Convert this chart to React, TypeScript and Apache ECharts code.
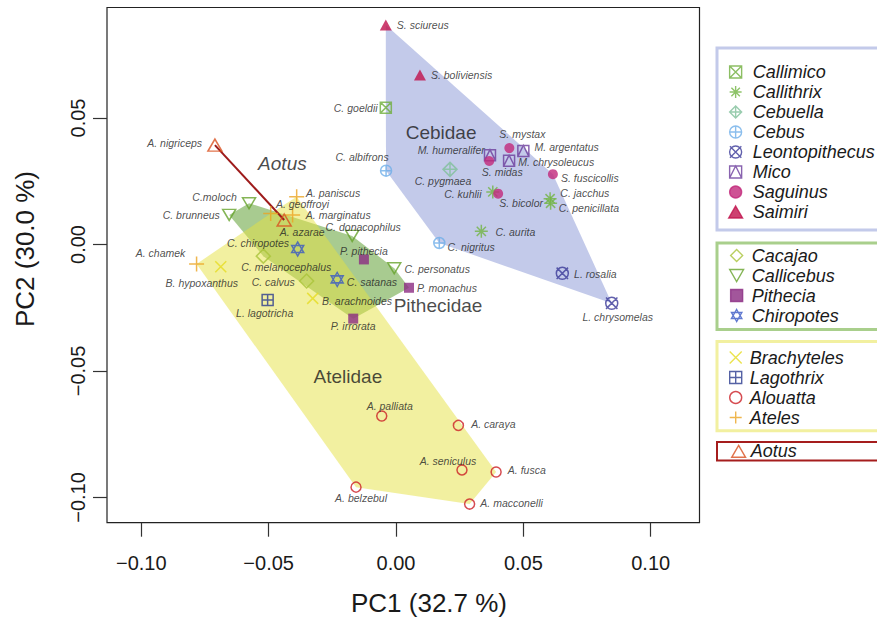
import React, { useEffect, useRef } from 'react';
import * as echarts from 'echarts';

const FONT = '"Liberation Sans", Arial, Helvetica, sans-serif';

// ---- axes ----
const xTicks = [-0.1, -0.05, 0, 0.05, 0.1];
const yTicks = [-0.1, -0.05, 0, 0.05];
const xRange = [-0.11347, 0.11916];
const yRange = [-0.10996, 0.09368];
const xTitle = 'PC1 (32.7 %)';
const yTitle = 'PC2 (30.0 %)';

// ---- data: [species, PC1, PC2] ----
const Callimico = [['C. goeldii', -0.0040, 0.0541]];
const Callithrix = [['C. kuhlii', 0.0380, 0.0208], ['C. jacchus', 0.0605, 0.0181], ['C. penicillata', 0.0607, 0.0163], ['C. aurita', 0.0335, 0.0052]];
const Cebuella = [['C. pygmaea', 0.0212, 0.0297]];
const Cebus = [['C. albifrons', -0.0039, 0.0292], ['C. nigritus', 0.0170, 0.0006]];
const Leontopithecus = [['L. rosalia', 0.0653, -0.0114], ['L. chrysomelas', 0.0847, -0.0232]];
const Mico = [['M. humeralifer', 0.0369, 0.0353], ['M. argentatus', 0.0500, 0.0370], ['M. chrysoleucus', 0.0444, 0.0331]];
const Saguinus = [['S. mystax', 0.0445, 0.0381], ['S. midas', 0.0366, 0.0330], ['S. fuscicollis', 0.0616, 0.0278], ['S. bicolor', 0.0401, 0.0201]];
const Saimiri = [['S. sciureus', -0.0040, 0.0868], ['S. boliviensis', 0.0094, 0.0670]];
const Cacajao = [['C. melanocephalus', -0.0521, -0.0046], ['C. calvus', -0.0351, -0.0144]];
const Callicebus = [['C.moloch', -0.0577, 0.0163], ['C. brunneus', -0.0655, 0.0117], ['C. donacophilus', -0.0172, 0.0034], ['C. personatus', -0.0007, -0.0094]];
const Pithecia = [['P. pithecia', -0.0126, -0.0059], ['P. monachus', 0.0051, -0.0171], ['P. irrorata', -0.0168, -0.0293]];
const Chiropotes = [['C. chiropotes', -0.0386, -0.0018], ['C. satanas', -0.0231, -0.0138]];
const Brachyteles = [['B. hypoxanthus', -0.0688, -0.0088], ['B. arachnoides', -0.0327, -0.0213]];
const Lagothrix = [['L. lagotricha', -0.0504, -0.0219]];
const Alouatta = [['A. palliata', -0.0056, -0.0678], ['A. caraya', 0.0245, -0.0715], ['A. seniculus', 0.0259, -0.0891], ['A. fusca', 0.0393, -0.0899], ['A. belzebul', -0.0157, -0.0959], ['A. macconelli', 0.0289, -0.1026]];
const Ateles = [['A. paniscus', -0.0390, 0.0189], ['A. geoffroyi', -0.0492, 0.0123], ['A. marginatus', -0.0406, 0.0117], ['A. chamek', -0.0783, -0.0077]];
const Aotus = [['A. nigriceps', -0.0711, 0.0393], ['A. azarae', -0.0439, 0.0097]];

const genusData: Record<string, any[]> = {
  Callimico, Callithrix, Cebuella, Cebus, Leontopithecus, Mico, Saguinus, Saimiri,
  Cacajao, Callicebus, Pithecia, Chiropotes, Brachyteles, Lagothrix, Alouatta, Ateles, Aotus,
};

// ---- families ----
const cebidae = ['Callimico', 'Callithrix', 'Cebuella', 'Cebus', 'Leontopithecus', 'Mico', 'Saguinus', 'Saimiri'];
const pithecidae = ['Cacajao', 'Callicebus', 'Pithecia', 'Chiropotes'];
const atelidae = ['Brachyteles', 'Lagothrix', 'Alouatta', 'Ateles'];
const aotidae = ['Aotus'];
const familyLabels = [['Cebidae', 0.0177, 0.0441], ['Pithecidae', 0.0165, -0.0243], ['Atelidae', -0.0189, -0.0520], ['Aotus', -0.0446, 0.0321]];

// ---- styles ----
const PATH = {
  sqX: 'path://M0 0L20 0L20 20L0 20ZM0 0L20 20M20 0L0 20',
  ast: 'path://M10 0L10 20M0 10L20 10M2.93 2.93L17.07 17.07M17.07 2.93L2.93 17.07',
  diaPlus: 'path://M10 0L20 10L10 20L0 10ZM10 0L10 20M0 10L20 10',
  circPlus: 'path://M0 10A10 10 0 1 1 20 10A10 10 0 1 1 0 10ZM10 0L10 20M0 10L20 10',
  circX: 'path://M0 10A10 10 0 1 1 20 10A10 10 0 1 1 0 10ZM0.5 0.5L19.5 19.5M19.5 0.5L0.5 19.5',
  sqTri: 'path://M0 0L20 0L20 20L0 20ZM0 20L10 0L20 20',
  tri: 'path://M10 0L20 17.3L0 17.3Z',
  triDown: 'path://M0 0L20 0L10 17.3Z',
  dia: 'path://M10 0L20 10L10 20L0 10Z',
  sq: 'path://M0 0L20 0L20 20L0 20Z',
  star: 'path://M10 0L18.66 15L1.34 15ZM10 20L1.34 5L18.66 5Z',
  x: 'path://M0 0L20 20M20 0L0 20',
  sqPlus: 'path://M0 0L20 0L20 20L0 20ZM10 0L10 20M0 10L20 10',
  plus: 'path://M10 0L10 20M0 10L20 10',
};

const genusStyle: Record<string, { symbol: string; size: any; color: string; filled?: boolean }> = {
  Callimico: { symbol: PATH.sqX, size: 11, color: '#6fae3c' },
  Callithrix: { symbol: PATH.ast, size: 13, color: '#72b444' },
  Cebuella: { symbol: PATH.diaPlus, size: 14, color: '#80bf9a' },
  Cebus: { symbol: PATH.circPlus, size: 11, color: '#6eaee8' },
  Leontopithecus: { symbol: PATH.circX, size: 12, color: '#3b3a99' },
  Mico: { symbol: PATH.sqTri, size: 11, color: '#6b3c9b' },
  Saguinus: { symbol: 'circle', size: 10, color: '#c2287a', filled: true },
  Saimiri: { symbol: PATH.tri, size: [12, 11], color: '#c0124c', filled: true },
  Cacajao: { symbol: PATH.dia, size: 14, color: '#a9c33a' },
  Callicebus: { symbol: PATH.triDown, size: [13, 11], color: '#66a22c' },
  Pithecia: { symbol: PATH.sq, size: 10, color: '#8b2c82', filled: true },
  Chiropotes: { symbol: PATH.star, size: [12, 14], color: '#3857c4' },
  Brachyteles: { symbol: PATH.x, size: 11, color: '#e6dc22' },
  Lagothrix: { symbol: PATH.sqPlus, size: 11, color: '#2b3b8e' },
  Alouatta: { symbol: 'circle', size: 10, color: '#cc1f26' },
  Ateles: { symbol: PATH.plus, size: 15, color: '#eba422' },
  Aotus: { symbol: PATH.tri, size: [14, 12], color: '#d9501f' },
};

const labelPlace: Record<string, [string, number, number]> = {
  'S. sciureus': ['right', 0, 0], 'S. boliviensis': ['right', 0, 0], 'C. goeldii': ['left', 3, 0], 'C. albifrons': ['top', -24, 3],
  'S. mystax': ['top', 13, 1], 'M. humeralifer': ['left', 6, -5], 'M. argentatus': ['right', 0, -4], 'M. chrysoleucus': ['right', -2, 1],
  'S. midas': ['bottom', 13, -5], 'S. fuscicollis': ['right', -2, 4], 'C. pygmaea': ['bottom', -7, -7], 'C. kuhlii': ['left', 1, 2],
  'S. bicolor': ['bottom', 23, -6], 'C. jacchus': ['right', -2, -6], 'C. penicillata': ['right', -4, 5], 'C. aurita': ['right', 2, 1],
  'C. nigritus': ['right', -3, 4], 'C. personatus': ['right', -2, 1], 'P. monachus': ['right', -2, 0], 'L. rosalia': ['right', 0, 1],
  'L. chrysomelas': ['bottom', 6, -3], 'C.moloch': ['left', 0, -6], 'C. brunneus': ['left', 3, 0], 'A. paniscus': ['right', -4, -4],
  'A. geoffroyi': ['right', -8, -9], 'A. marginatus': ['right', 0, 0], 'A. azarae': ['bottom', 18, -5], 'C. donacophilus': ['top', 11, 8],
  'C. chiropotes': ['left', 3, -6], 'P. pithecia': ['top', 0, 7], 'A. chamek': ['left', 2, -11], 'C. melanocephalus': ['bottom', 23, -7],
  'B. hypoxanthus': ['bottom', -19, -1], 'C. calvus': ['left', 1, 1], 'C. satanas': ['right', -2, 3], 'B. arachnoides': ['right', -2, 3],
  'L. lagotricha': ['bottom', -3, -4], 'P. irrorata': ['bottom', 0, -8], 'A. palliata': ['top', 8, 6], 'A. caraya': ['right', 2, -1],
  'A. seniculus': ['top', -14, 7], 'A. fusca': ['right', 1, -2], 'A. belzebul': ['bottom', 5, -5], 'A. macconelli': ['right', 0, -1],
  'A. nigriceps': ['left', 0, -2],
};

function convexHull(pts: number[][]): number[][] {
  const p = pts.slice().sort((a, b) => (a[0] - b[0]) || (a[1] - b[1]));
  if (p.length < 3) return p;
  const cross = (o: number[], a: number[], b: number[]) => (a[0] - o[0]) * (b[1] - o[1]) - (a[1] - o[1]) * (b[0] - o[0]);
  const lower: number[][] = [];
  for (const q of p) { while (lower.length >= 2 && cross(lower[lower.length - 2], lower[lower.length - 1], q) <= 0) lower.pop(); lower.push(q); }
  const upper: number[][] = [];
  for (let i = p.length - 1; i >= 0; i--) { const q = p[i]; while (upper.length >= 2 && cross(upper[upper.length - 2], upper[upper.length - 1], q) <= 0) upper.pop(); upper.push(q); }
  upper.pop(); lower.pop();
  return lower.concat(upper);
}

function hullSeries(name: string, genera: string[], style: any, z: number) {
  const pts: number[][] = [];
  genera.forEach((g) => genusData[g].forEach((d) => pts.push([d[1], d[2]])));
  const hull = convexHull(pts);
  return {
    type: 'custom', name, coordinateSystem: 'cartesian2d', silent: true, z,
    data: hull,
    renderItem: (params: any, api: any) => {
      if (params.dataIndex !== 0) return null;
      const points = hull.map((h) => api.coord(h));
      if (points.length < 3) return { type: 'polyline', shape: { points }, style };
      return { type: 'polygon', shape: { points }, style };
    },
  };
}

const fmt = (v: number) => { const s = Math.abs(v).toFixed(2); return v < -1e-9 ? '\u2212' + s : s; };

export default function App() {
  const ref = useRef<HTMLDivElement>(null);
  useEffect(() => {
    if (!ref.current) return;
    const chart = echarts.init(ref.current, undefined, { renderer: 'svg' });

    const scatter = Object.keys(genusData).map((g) => {
      const st = genusStyle[g];
      return {
        type: 'scatter', name: g, z: 4,
        symbol: st.symbol, symbolSize: st.size,
        itemStyle: st.filled
          ? { color: st.color, borderColor: st.color, borderWidth: 0 }
          : { color: 'rgba(255,255,255,0)', borderColor: st.color, borderWidth: 1.5 },
        emphasis: { disabled: true },
        label: { show: true, formatter: '{b}', fontSize: 10.5, fontStyle: 'italic', color: '#222', fontFamily: FONT, distance: 5 },
        data: genusData[g].map((d) => {
          const lp = labelPlace[d[0]] || ['right', 0, 0];
          return { name: d[0], value: [d[1], d[2]], label: { position: lp[0], offset: [lp[1], lp[2]] } };
        }),
      };
    });

    const famLabelSeries = {
      type: 'scatter', name: 'families', z: 3, silent: true, symbolSize: 0,
      label: { show: true, position: 'inside', formatter: '{b}', fontSize: 19, color: '#1a1a1a', fontFamily: FONT },
      data: familyLabels.map((f) => ({ name: f[0], value: [f[1], f[2]], label: f[0] === 'Aotus' ? { fontStyle: 'italic' } : {} })),
    };

    const legendText = { fontSize: 18, fontStyle: 'italic', color: '#1a1a1a', fontFamily: FONT, lineHeight: 20 };
    const legendBase = { orient: 'vertical', itemGap: 0, itemHeight: 12, selectedMode: false, itemStyle: { borderWidth: 1.4 }, textStyle: legendText };

    chart.setOption({
      animation: false,
      backgroundColor: '#ffffff',
      grid: { left: 107, right: 177.5, top: 7.5, bottom: 95.3, show: true, borderColor: '#222', borderWidth: 1.2, backgroundColor: 'rgba(0,0,0,0)' },
      xAxis: {
        type: 'value', min: xRange[0], max: xRange[1], splitLine: { show: false },
        axisLine: { show: false, onZero: false },
        axisTick: { show: true, length: 14, customValues: xTicks, lineStyle: { color: '#333', width: 1.2 } },
        axisLabel: { customValues: xTicks, formatter: fmt, fontSize: 20, color: '#1a1a1a', fontFamily: FONT, margin: 30 },
      },
      yAxis: {
        type: 'value', min: yRange[0], max: yRange[1], splitLine: { show: false },
        axisLine: { show: false, onZero: false },
        axisTick: { show: true, length: 14, customValues: yTicks, lineStyle: { color: '#333', width: 1.2 } },
        axisLabel: { customValues: yTicks, formatter: fmt, fontSize: 20, color: '#1a1a1a', fontFamily: FONT, margin: 19, rotate: 90 },
      },
      legend: [
        { ...legendBase, data: cebidae, left: 717, top: 48, itemWidth: 24, padding: [14, 120, 8, 11], borderColor: '#c3caea', borderWidth: 3 },
        { ...legendBase, data: pithecidae, left: 717, top: 243, itemWidth: 20, padding: [2.5, 120, 4, 12], borderColor: '#a9cf8c', borderWidth: 3 },
        { ...legendBase, data: atelidae, left: 717, top: 341.5, itemWidth: 18, padding: [6, 120, 3.3, 12], borderColor: '#f2f0a0', borderWidth: 3 },
        { ...legendBase, data: aotidae, left: 717, top: 442, itemWidth: 14, padding: [0.3, 120, 0.3, 14], borderColor: '#a51d1d', borderWidth: 2, textStyle: { ...legendText, lineHeight: 18 } },
      ],
      graphic: [
        { type: 'text', x: 429, y: 603, style: { text: xTitle, font: '26px ' + FONT, fill: '#1a1a1a', align: 'center', verticalAlign: 'middle' } },
        { type: 'text', x: 25, y: 249, rotation: Math.PI / 2, style: { text: yTitle, font: '26px ' + FONT, fill: '#1a1a1a', align: 'center', verticalAlign: 'middle' } },
      ],
      series: [
        hullSeries('Cebidae hull', cebidae, { fill: '#c3caea' }, 1),
        hullSeries('Pithecidae hull', pithecidae, { fill: 'rgba(110,168,70,0.6)' }, 1),
        hullSeries('Atelidae hull', atelidae, { fill: 'rgba(229,225,65,0.5)' }, 1),
        hullSeries('Aotus hull', aotidae, { fill: 'none', stroke: '#9e1b1b', lineWidth: 2 }, 2),
        famLabelSeries,
        ...scatter,
      ],
    });
    return () => chart.dispose();
  }, []);
  return <div ref={ref} style={{ position: 'absolute', left: 0, top: 0, width: 877, height: 618 }} />;
}
